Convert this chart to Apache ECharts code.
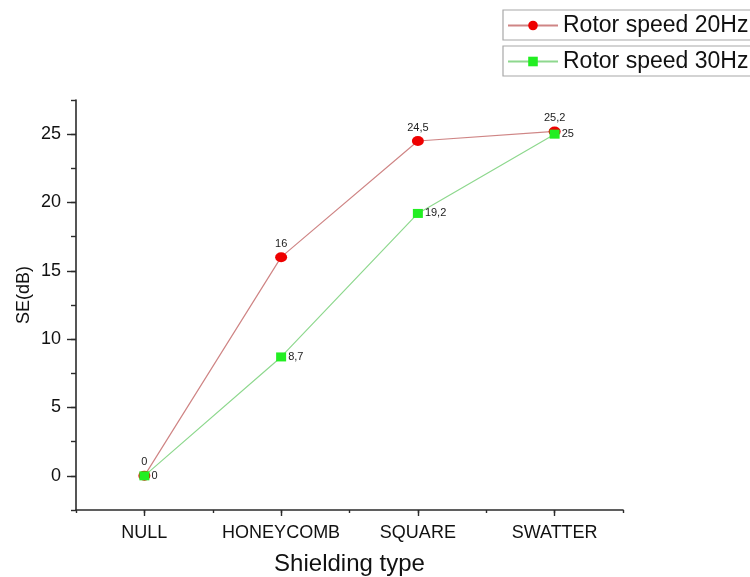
<!DOCTYPE html>
<html>
<head>
<meta charset="utf-8">
<script src="https://cdn.jsdelivr.net/npm/echarts@6/dist/echarts.min.js"></script>
<style>
  html, body { margin: 0; padding: 0; background: #fff; }
  #chart { width: 750px; height: 577px; }
</style>
</head>
<body>
<div id="chart"></div>
<script>
// Shielding effectiveness by shielding type at two rotor speeds
const categories = ['NULL', 'HONEYCOMB', 'SQUARE', 'SWATTER'];
const speed20 = [0, 16, 24.5, 25.2];
const speed30 = [0, 8.7, 19.2, 25];
const seriesNames = ['Rotor speed 20Hz', 'Rotor speed 30Hz'];
const yTicks = [0, 5, 10, 15, 20, 25];

const FONT = '"Liberation Sans", Arial, sans-serif';
const AXIS = '#2b2b2b';

// Plot area: x runs 0.5..4.5 (categories at 1..4), y runs -2.5..27.5
const L = 76, R = 127, T = 100, B = 67;
const W = 750 - L - R, H = 577 - T - B;
const xUnit = W / 4, yUnit = H / 30;

const toPoints = arr => arr.map((v, i) => [i + 1, v]);
const commaLabel = p => String(p.value[1]).replace('.', ',');

// Each legend entry sits in its own frame that runs past the right edge
const LEGEND_LEFT = 503;
const legendTops = [10, 46];
const legendBox = (name, top) => ({
  data: [name],
  left: LEGEND_LEFT, top: top + 1,
  orient: 'vertical',
  padding: [3, 0, 3, 4],
  itemWidth: 50, itemHeight: 12,
  textStyle: { fontSize: 23, color: '#111', fontFamily: FONT }
});
const legendFrame = top => ({
  type: 'rect',
  shape: { x: LEGEND_LEFT, y: top, width: 280, height: 30 },
  style: { fill: 'none', stroke: '#a8a8a8', lineWidth: 1.2 },
  silent: true
});

const chart = echarts.init(document.getElementById('chart'), null, { renderer: 'canvas' });

chart.setOption({
  backgroundColor: '#fff',
  animation: false,
  textStyle: { fontFamily: FONT },
  legend: [legendBox(seriesNames[0], legendTops[0]), legendBox(seriesNames[1], legendTops[1])],
  graphic: legendTops.map(legendFrame),
  grid: [
    // main plot: axis lines, minor ticks, series
    { left: L, right: R, top: T, bottom: B, outerBoundsMode: 'none', containLabel: false },
    // overlay aligned to the data range: major ticks and labels
    { left: L + xUnit / 2, right: R + xUnit / 2, top: T + yUnit * 2.5, bottom: B + yUnit * 2.5,
      outerBoundsMode: 'none', containLabel: false }
  ],
  xAxis: [
    {
      gridIndex: 0, type: 'value', min: 0.5, max: 4.5, interval: 0.5,
      axisLine: { show: true, onZero: false, lineStyle: { color: AXIS, width: 1.6 } },
      axisTick: { show: true, inside: false, length: 3, lineStyle: { color: AXIS, width: 1.4 } },
      axisLabel: { show: false },
      splitLine: { show: false },
      name: 'Shielding type', nameLocation: 'middle', nameGap: 42,
      nameTextStyle: { fontSize: 24, color: '#111', fontFamily: FONT }
    },
    {
      gridIndex: 1, type: 'value', min: 1, max: 4, interval: 1,
      offset: yUnit * 2.5,
      axisLine: { show: false, onZero: false },
      axisTick: { show: true, inside: false, length: 6, lineStyle: { color: AXIS, width: 1.4 } },
      axisLabel: {
        show: true, margin: 14, fontSize: 18, color: '#111', fontFamily: FONT,
        formatter: v => categories[Math.round(v) - 1] || ''
      },
      splitLine: { show: false }
    }
  ],
  yAxis: [
    {
      gridIndex: 0, type: 'value', min: -2.5, max: 27.5, interval: 2.5,
      axisLine: { show: true, onZero: false, lineStyle: { color: AXIS, width: 1.6 } },
      axisTick: { show: true, inside: false, length: 5, lineStyle: { color: AXIS, width: 1.4 } },
      axisLabel: { show: false },
      splitLine: { show: false },
      name: 'SE(dB)', nameLocation: 'middle', nameGap: 43,
      nameTextStyle: { fontSize: 18, color: '#111', fontFamily: FONT, padding: [0, 0, 0, 20] }
    },
    {
      gridIndex: 1, type: 'value', min: yTicks[0], max: yTicks[yTicks.length - 1], interval: 5,
      offset: xUnit / 2,
      axisLine: { show: false, onZero: false },
      axisTick: { show: true, inside: false, length: 9, lineStyle: { color: AXIS, width: 1.4 } },
      axisLabel: { show: true, margin: 15, fontSize: 18, color: '#111', fontFamily: FONT },
      splitLine: { show: false }
    }
  ],
  series: [
    {
      name: seriesNames[0], type: 'line', xAxisIndex: 0, yAxisIndex: 0,
      data: toPoints(speed20),
      symbol: 'circle', symbolSize: [12, 10],
      itemStyle: { color: '#ee0000' },
      lineStyle: { color: '#cf8585', width: 1.2 },
      label: {
        show: true, position: 'top', distance: 3,
        fontSize: 11, color: '#222', fontFamily: FONT,
        formatter: commaLabel
      }
    },
    {
      name: seriesNames[1], type: 'line', xAxisIndex: 0, yAxisIndex: 0,
      data: toPoints(speed30),
      symbol: 'rect', symbolSize: [10, 9],
      itemStyle: { color: '#22ee22' },
      lineStyle: { color: '#8ed88e', width: 1.2 },
      label: {
        show: true, position: 'right', distance: 2,
        fontSize: 11, color: '#222', fontFamily: FONT,
        formatter: commaLabel
      }
    }
  ]
});
</script>
</body>
</html>
